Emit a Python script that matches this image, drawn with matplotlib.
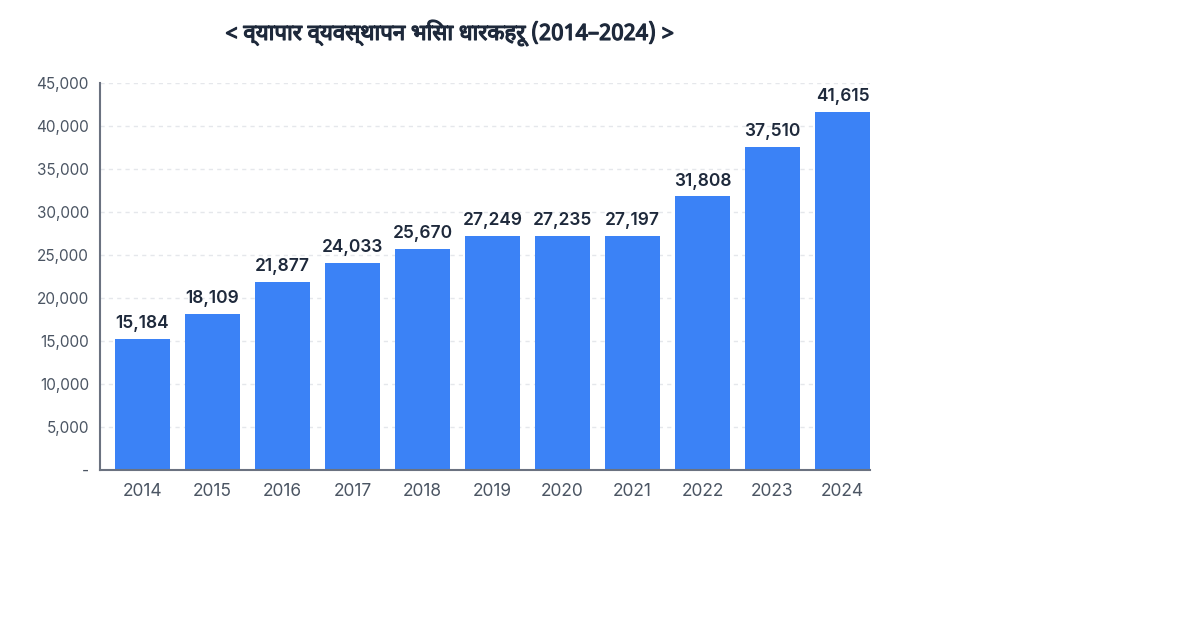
import matplotlib
matplotlib.use("Agg")
import matplotlib.pyplot as plt
import matplotlib.patheffects as pe
from matplotlib.ticker import FuncFormatter

# ---- data ----
years = ["2014", "2015", "2016", "2017", "2018", "2019",
         "2020", "2021", "2022", "2023", "2024"]
holders = [15184, 18109, 21877, 24033, 25670, 27249,
           27235, 27197, 31808, 37510, 41615]
title = "< व्यापार व्यवस्थापन भिसा धारकहरू (2014–2024) >"

plt.rcParams["font.family"] = ["Inter", "DejaVu Sans"]

fig = plt.figure(figsize=(12, 6.3), dpi=100)
ax = fig.add_axes([100 / 1200, 160 / 630, 770 / 1200, 387 / 630])

x = list(range(len(years)))
ax.bar(x, holders, width=55 / 70, color="#3b82f6", zorder=2)

# value labels on top of bars
for xi, v in zip(x, holders):
    ax.annotate(f"{v:,}", (xi, v), xytext=(0, 5), textcoords="offset points",
                ha="center", va="bottom", fontsize=12.5, fontweight="semibold",
                color="#1e293b")

ax.set_xlim(-42.5 / 70, len(years) - 1 + 27.5 / 70)
ax.set_ylim(0, 45000)
ax.set_yticks(range(0, 45001, 5000))
ax.yaxis.set_major_formatter(FuncFormatter(lambda v, p: "-" if v == 0 else f"{int(v):,}"))
ax.set_xticks(x)
ax.set_xticklabels(years)

ax.grid(axis="y", color="#e5e7eb", linestyle=(0, (3, 3)), linewidth=1, zorder=0)
for s in ["top", "right"]:
    ax.spines[s].set_visible(False)
for s in ["left", "bottom"]:
    ax.spines[s].set_color("#6b7280")
    ax.spines[s].set_linewidth(1.5)
ax.tick_params(axis="both", length=0, colors="#4b5563")
ax.tick_params(axis="y", pad=8, labelsize=11)
ax.tick_params(axis="x", pad=9, labelsize=12.5)

# no bold Devanagari face installed, so thicken the strokes a little
fig.text(450 / 1200, 1 - 33 / 630, title, ha="center", va="center",
         fontsize=16, fontweight="bold", color="#1e293b",
         family=["Noto Sans Devanagari", "Inter", "DejaVu Sans"],
         path_effects=[pe.withStroke(linewidth=0.9, foreground="#1e293b")])

fig.savefig("out.png", dpi=100)
